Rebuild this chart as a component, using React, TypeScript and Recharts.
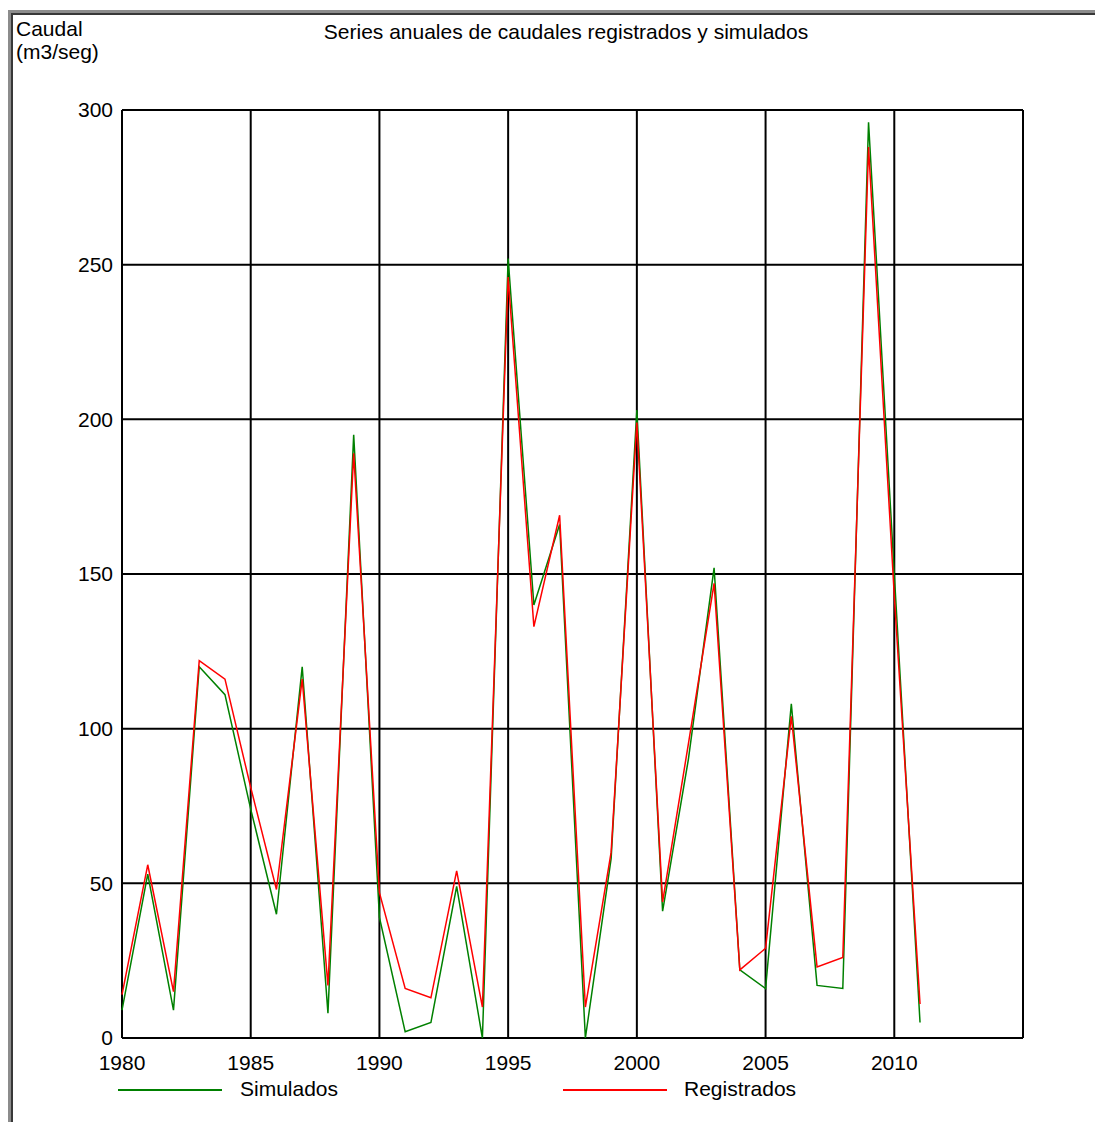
import React from "react";
import {
  LineChart,
  Line,
  XAxis,
  YAxis,
  CartesianGrid,
  Legend,
} from "recharts";

const years = [
  1980, 1981, 1982, 1983, 1984, 1985, 1986, 1987, 1988, 1989, 1990, 1991,
  1992, 1993, 1994, 1995, 1996, 1997, 1998, 1999, 2000, 2001, 2002, 2003,
  2004, 2005, 2006, 2007, 2008, 2009, 2010, 2011,
];
const simulados = [
  9, 53, 9, 120, 111, 74, 40, 120, 8, 195, 39, 2, 5, 49, 0, 252, 140, 166, 0,
  58, 203, 41, 90, 152, 22, 16, 108, 17, 16, 296, 150, 5,
];
const registrados = [
  14, 56, 15, 122, 116, 81, 48, 116, 17, 189, 47, 16, 13, 54, 10, 246, 133,
  169, 10, 60, 199, 44, 95, 147, 22, 29, 104, 23, 26, 288, 143, 11,
];
const xTicks = [1980, 1985, 1990, 1995, 2000, 2005, 2010, 2015];
const yTicks = [0, 50, 100, 150, 200, 250, 300];

const data = years.map((y, i) => ({
  year: y,
  sim: simulados[i],
  reg: registrados[i],
}));

const font = "Arial, 'Liberation Sans', sans-serif";

// legend drawn under the axis, like the original window
// (offsets are relative to the legend wrapper, which starts at margin.left)
const legendPos: Record<string, { line: number; text: number }> = {
  Simulados: { line: 56, text: 178 },
  Registrados: { line: 501, text: 622 },
};

function LegendBox(props: any) {
  const items = props.payload || [];
  return (
    <div style={{ position: "relative", height: 60, fontFamily: font, fontSize: 21 }}>
      {items.map((it: any) => {
        const p = legendPos[it.value];
        if (!p) return null;
        return (
          <React.Fragment key={it.value}>
            <div
              style={{
                position: "absolute",
                left: p.line,
                top: 27,
                width: 104,
                height: 2,
                background: it.color,
              }}
            />
            <div style={{ position: "absolute", left: p.text, top: 15, color: "#000" }}>
              {it.value}
            </div>
          </React.Fragment>
        );
      })}
    </div>
  );
}

export default function App() {
  return (
    <div style={{ position: "relative", width: 1095, height: 1114, background: "#fff", fontFamily: font }}>
      {/* window frame */}
      <div
        style={{
          position: "absolute",
          left: 0,
          top: 2,
          width: 1095,
          height: 1112,
          borderTop: "5px ridge #8c8c8c",
          borderLeft: "5px ridge #8c8c8c",
          boxSizing: "border-box",
        }}
      />
      <div style={{ position: "absolute", left: 8, top: 9, fontSize: 21, lineHeight: "23px", color: "#000" }}>
        Caudal
        <br />
        (m3/seg)
      </div>
      <div
        style={{
          position: "absolute",
          left: 0,
          width: 1116,
          top: 12,
          textAlign: "center",
          fontSize: 21,
          color: "#000",
        }}
      >
        Series anuales de caudales registrados y simulados
      </div>
      <div style={{ position: "absolute", left: 0, top: 0 }}>
        <LineChart
          width={1095}
          height={1114}
          data={data}
          margin={{ top: 102, right: 80, left: 54, bottom: 0 }}
        >
          <CartesianGrid stroke="#000" strokeWidth={2} />
          <XAxis
            dataKey="year"
            type="number"
            domain={[1980, 2015]}
            ticks={xTicks}
            tickFormatter={(v: number) => (v === 2015 ? "" : String(v))}
            axisLine={false}
            tickLine={false}
            tickSize={0}
            tickMargin={17}
            height={24}
            interval={0}
            tick={{ fill: "#000", fontSize: 21, fontFamily: font }}
          />
          <YAxis
            domain={[0, 300]}
            ticks={yTicks}
            axisLine={false}
            tickLine={false}
            tickSize={0}
            tickMargin={9}
            width={60}
            interval={0}
            tick={{ fill: "#000", fontSize: 21, fontFamily: font }}
          />
          <Legend content={<LegendBox />} verticalAlign="bottom" />
          <Line
            dataKey="sim"
            name="Simulados"
            stroke="#008000"
            strokeWidth={1.5}
            dot={false}
            isAnimationActive={false}
          />
          <Line
            dataKey="reg"
            name="Registrados"
            stroke="#ff0000"
            strokeWidth={1.5}
            dot={false}
            isAnimationActive={false}
          />
        </LineChart>
      </div>
    </div>
  );
}
